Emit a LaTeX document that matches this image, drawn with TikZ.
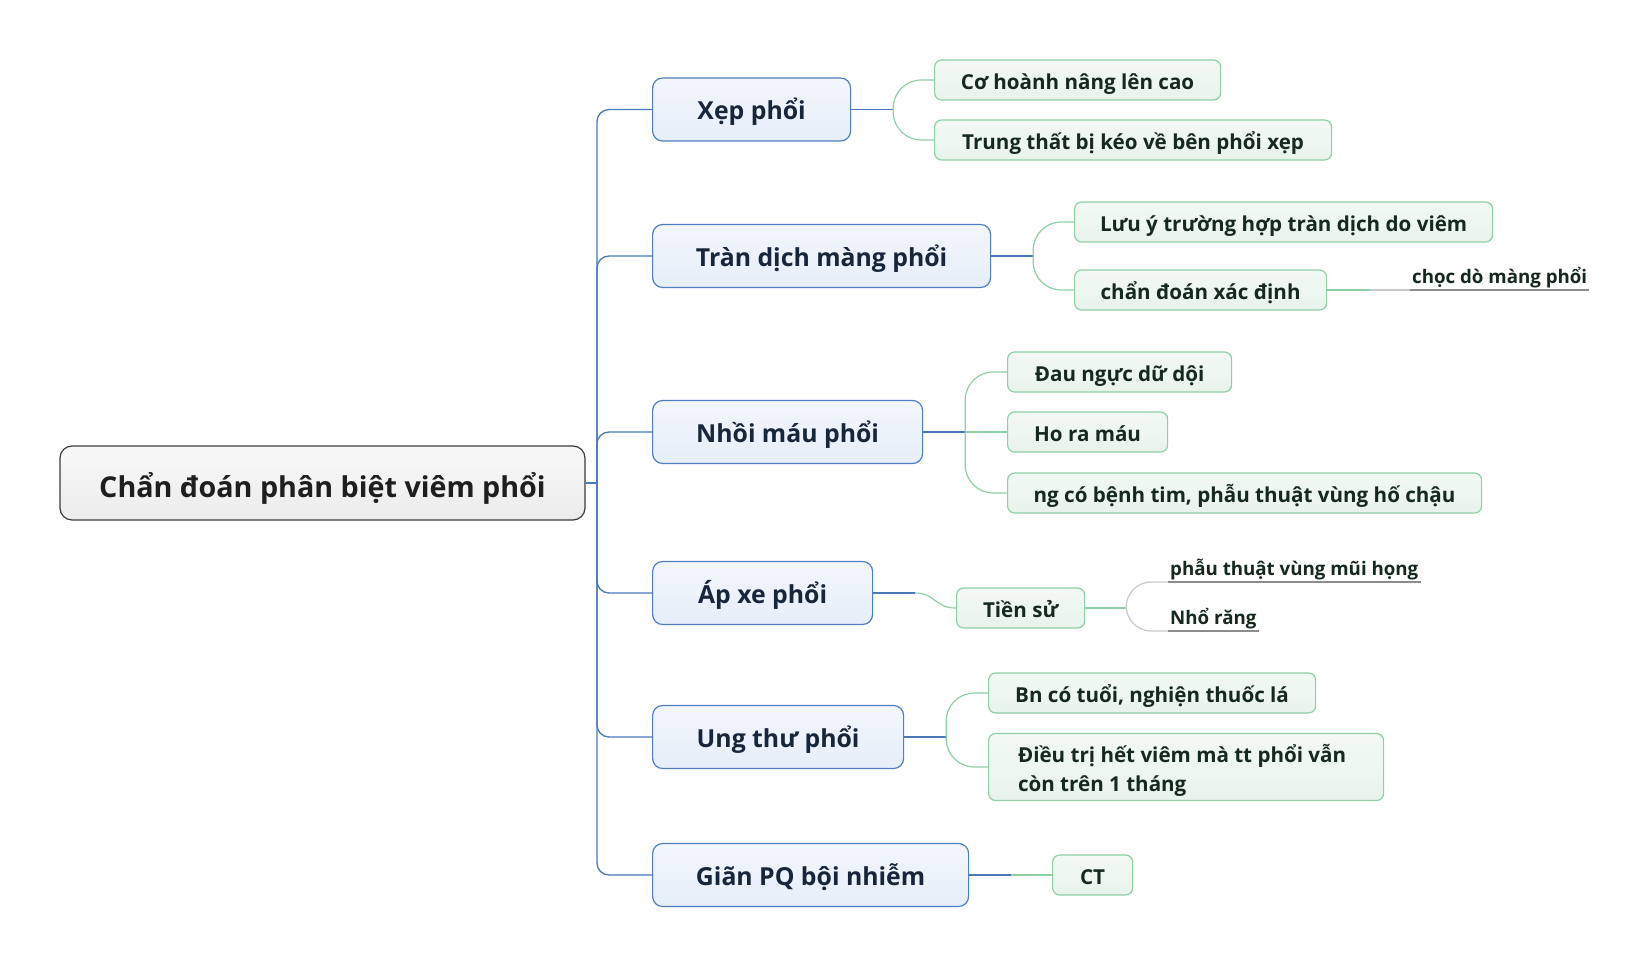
\documentclass[tikz,border=0pt]{standalone}
\usepackage{fontspec}
\setmainfont{Open Sans}
\usetikzlibrary{calc}
\definecolor{rootdraw}{HTML}{3C3C3C}
\definecolor{roottop}{HTML}{F8F8F8}
\definecolor{rootbot}{HTML}{ECECEC}
\definecolor{roottext}{HTML}{1E1E1E}
\definecolor{bluedraw}{HTML}{4F7FC0}
\definecolor{bluetop}{HTML}{F3F6FC}
\definecolor{bluebot}{HTML}{E6EEF9}
\definecolor{l1text}{HTML}{17263A}
\definecolor{blueln}{HTML}{4A78B8}
\definecolor{greendraw}{HTML}{8FCFA6}
\definecolor{greentop}{HTML}{F3F9F5}
\definecolor{greenbot}{HTML}{E8F3EC}
\definecolor{l2text}{HTML}{16291E}
\definecolor{greenln}{HTML}{8FCFA6}
\definecolor{lgray}{HTML}{C8C8C8}
\definecolor{ulgray}{HTML}{8C8C8C}
\begin{document}
\begin{tikzpicture}[x=1pt,y=-1pt,
  rootbox/.style={draw=rootdraw, line width=1.2pt, top color=roottop, bottom color=rootbot,
    rounded corners=12pt, minimum width=525pt, minimum height=74pt, inner sep=0pt,
    font=\fontsize{28.7}{34}\selectfont\bfseries, text=roottext,
    text height=30pt, text depth=2pt},
  lone/.style={draw=bluedraw, line width=1.2pt, top color=bluetop, bottom color=bluebot,
    rounded corners=10pt, minimum height=63pt, inner sep=0pt, anchor=west,
    font=\fontsize{24.8}{30}\selectfont\bfseries, text=l1text,
    text height=22pt, text depth=2pt},
  ltwobase/.style={draw=greendraw, line width=1.2pt, top color=greentop, bottom color=greenbot,
    rounded corners=7pt, minimum height=40pt, inner sep=0pt, anchor=west,
    font=\fontsize{20.6}{28.4}\selectfont\bfseries, text=l2text},
  ltwo/.style={ltwobase, text height=20.4pt, text depth=2pt},
  lthree/.style={inner xsep=2pt, inner ysep=2pt, anchor=south west,
    font=\fontsize{18.7}{22}\selectfont\bfseries, text=l2text},
  bl/.style={draw=blueln, line width=1.3pt},
  gl/.style={draw=greenln, line width=1.2pt},
  gyl/.style={draw=lgray, line width=1.2pt},
  ul/.style={draw=ulgray, line width=1.2pt}
]
\useasboundingbox[fill=white] (0,0) rectangle (1651,968);

% root
\node[rootbox] (root) at (322.5,483) {Chẩn đoán phân biệt viêm phổi};

% level 1
\node[lone, minimum width=198pt] (xep)  at (652,109.5) {Xẹp phổi};
\node[lone, minimum width=338pt] (tran) at (652,256) {Tràn dịch màng phổi};
\node[lone, minimum width=270pt] (nhoi) at (652,432) {Nhồi máu phổi};
\node[lone, minimum width=220pt] (apxe) at (652,593) {Áp xe phổi};
\node[lone, minimum width=251pt] (ung)  at (652,737) {Ung thư phổi};
\node[lone, minimum width=316pt] (gian) at (652,875) {Giãn PQ bội nhiễm};

% level 2
\node[ltwo, minimum width=286pt] (coh)   at (934,80)  {Cơ hoành nâng lên cao};
\node[ltwo, minimum width=397pt] (trung) at (934,140) {Trung thất bị kéo về bên phổi xẹp};
\node[ltwo, minimum width=418pt] (luuy)  at (1074,222) {Lưu ý trường hợp tràn dịch do viêm};
\node[ltwo, minimum width=252pt] (chan)  at (1074,290) {chẩn đoán xác định};
\node[ltwo, minimum width=224pt] (dau)   at (1007,372) {Đau ngực dữ dội};
\node[ltwo, minimum width=160pt] (ho)    at (1007,432) {Ho ra máu};
\node[ltwo, minimum width=474pt] (ngco)  at (1007,493) {ng có bệnh tim, phẫu thuật vùng hố chậu};
\node[ltwo, minimum width=128pt] (tien)  at (956,608) {Tiền sử};
\node[ltwo, minimum width=327pt] (bn)    at (988,693) {Bn có tuổi, nghiện thuốc lá};
\node[ltwobase, minimum width=395pt, minimum height=67pt] (dieu) at (988,767)
  {\raisebox{-9.3pt}[0pt][0pt]{\begin{tabular}{@{}l@{}}Điều trị hết viêm mà tt phổi vẫn\\còn trên 1 tháng\end{tabular}}\hspace*{8pt}};
\node[ltwo, minimum width=80pt] (ct)     at (1052,875) {CT};

% level 3
\node[lthree] (chocdo) at (1410,290) {chọc dò màng phổi};
\node[lthree] (phau)   at (1168,582) {phẫu thuật vùng mũi họng};
\node[lthree] (nho)    at (1168,631) {Nhổ răng};
\draw[ul] (chocdo.south west) -- (chocdo.south east);
\draw[ul] (phau.south west) -- (phau.south east);
\draw[ul] (nho.south west) -- (nho.south east);

% trunk
\coordinate (tr) at (597,483);
\draw[bl] (root.east) -- (tr);
\foreach \n in {xep,tran,nhoi,apxe,ung,gian}
  \draw[bl, rounded corners=12pt] (tr) |- (\n.west);

% Xep phoi
\coordinate (bxep) at ($(xep.east)+(42,0)$);
\draw[bl] (xep.east) -- (bxep);
\draw[gl, rounded corners=28pt] (bxep) |- (coh.west);
\draw[gl, rounded corners=28pt] (bxep) |- (trung.west);

% Tran dich
\coordinate (btran) at ($(tran.east)+(42,0)$);
\draw[bl] (tran.east) -- (btran);
\draw[gl, rounded corners=28pt] (btran) |- (luuy.west);
\draw[gl, rounded corners=28pt] (btran) |- (chan.west);
\coordinate (bchan) at (1370,290);
\draw[gl] (chan.east) -- (bchan);
\draw[gyl] (bchan) -- (chocdo.south west);

% Nhoi mau
\coordinate (bnhoi) at ($(nhoi.east)+(42,0)$);
\draw[bl] (nhoi.east) -- (bnhoi);
\draw[gl, rounded corners=28pt] (bnhoi) |- (dau.west);
\draw[gl] (bnhoi) -- (ho.west);
\draw[gl, rounded corners=28pt] (bnhoi) |- (ngco.west);

% Ap xe
\coordinate (bapxe) at ($(apxe.east)+(42,0)$);
\draw[bl] (apxe.east) -- (bapxe);
\draw[gl] (bapxe) .. controls (936,593) and (934,608) .. (tien.west);
\coordinate (btien) at ($(tien.east)+(41,0)$);
\draw[gl] (tien.east) -- (btien);
\draw[gyl, rounded corners=25pt] (btien) |- (phau.south west);
\draw[gyl, rounded corners=25pt] (btien) |- (nho.south west);

% Ung thu
\coordinate (bung) at ($(ung.east)+(42,0)$);
\draw[bl] (ung.east) -- (bung);
\draw[gl, rounded corners=28pt] (bung) |- (bn.west);
\draw[gl, rounded corners=28pt] (bung) |- (dieu.west);

% Gian PQ
\coordinate (bgian) at ($(gian.east)+(42,0)$);
\draw[bl] (gian.east) -- (bgian);
\draw[gl] (bgian) -- (ct.west);
\end{tikzpicture}
\end{document}
